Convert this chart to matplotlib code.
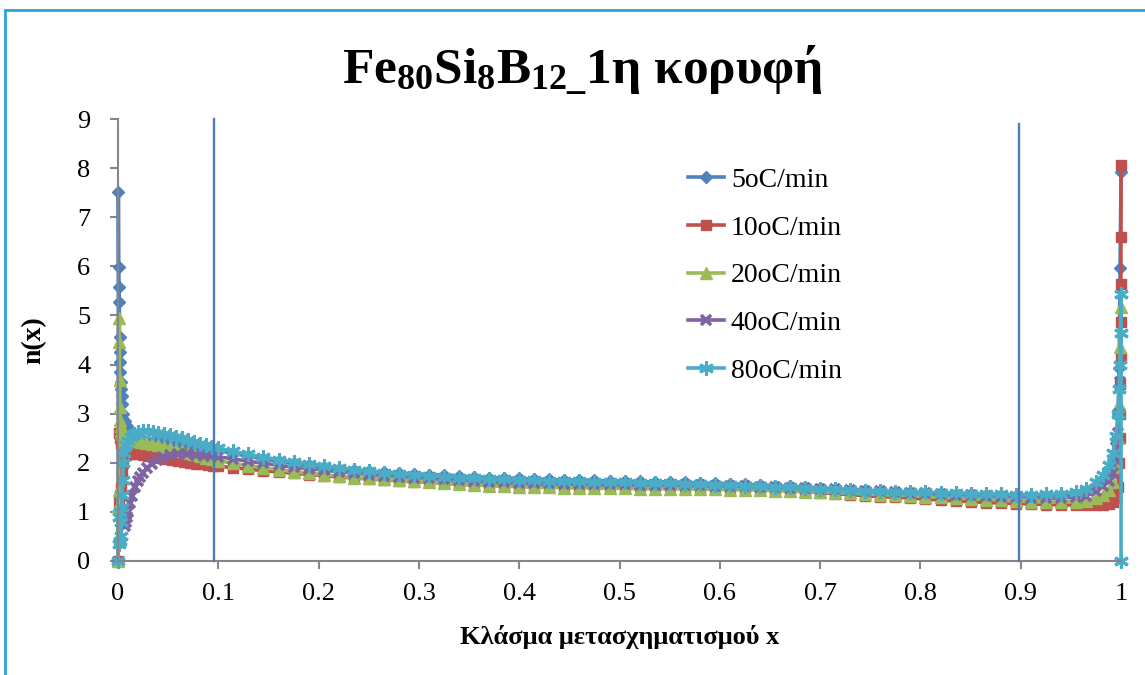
import matplotlib
matplotlib.use("Agg")
import matplotlib.pyplot as plt
from matplotlib.lines import Line2D

plt.rcParams["font.family"] = ["Liberation Serif", "DejaVu Serif"]
plt.rcParams["mathtext.fontset"] = "custom"
plt.rcParams["mathtext.rm"] = "Liberation Serif"
plt.rcParams["mathtext.bf"] = "Liberation Serif:bold"

# ---- data -------------------------------------------------------------
LABELS = ["5oC/min", "10oC/min", "20oC/min", "40oC/min", "80oC/min"]

# shared conversion-fraction grid for the middle part of every curve
X_MID = [0.100, 0.115, 0.130, 0.145, 0.160, 0.175, 0.190, 0.205, 0.220, 0.235,
         0.250, 0.265, 0.280, 0.295, 0.310, 0.325, 0.340, 0.355, 0.370, 0.385,
         0.400, 0.415, 0.430, 0.445, 0.460, 0.475, 0.490, 0.505, 0.520, 0.535,
         0.550, 0.565, 0.580, 0.595, 0.610, 0.625, 0.640, 0.655, 0.670, 0.685,
         0.700, 0.715, 0.730, 0.745, 0.760, 0.775, 0.790, 0.805, 0.820, 0.835,
         0.850, 0.865, 0.880, 0.895, 0.910, 0.925, 0.940, 0.955]

# 5 oC/min
X5_LEFT = [0.0, 0.0003, 0.0006, 0.0009, 0.0012, 0.0015, 0.0018, 0.0021, 0.0024,
           0.0027, 0.003, 0.0035, 0.004, 0.005, 0.007, 0.009, 0.012, 0.016, 0.020,
           0.025, 0.030, 0.036, 0.042, 0.048, 0.054, 0.060, 0.066, 0.072, 0.078,
           0.084, 0.090]
Y5_LEFT = [0.0, 7.52, 5.99, 5.58, 5.27, 4.56, 4.26, 4.05, 3.85,
           3.65, 3.50, 3.35, 3.20, 3.00, 2.85, 2.75, 2.55, 2.50, 2.48,
           2.46, 2.45, 2.44, 2.42, 2.40, 2.38, 2.36, 2.34, 2.32, 2.30,
           2.29, 2.27]
Y5_MID = [2.25, 2.19, 2.13, 2.08, 2.03, 1.99, 1.95, 1.92, 1.88, 1.85,
          1.83, 1.81, 1.79, 1.78, 1.76, 1.75, 1.73, 1.71, 1.70, 1.69,
          1.68, 1.67, 1.66, 1.65, 1.65, 1.64, 1.63, 1.63, 1.62, 1.61,
          1.61, 1.60, 1.59, 1.58, 1.57, 1.56, 1.55, 1.53, 1.52, 1.50,
          1.48, 1.47, 1.45, 1.44, 1.42, 1.41, 1.40, 1.39, 1.38, 1.37,
          1.36, 1.35, 1.34, 1.33, 1.33, 1.33, 1.34, 1.37]
X5_RIGHT = [0.965, 0.975, 0.982, 0.988, 0.992, 0.995, 0.997, 0.998, 0.999, 1.0]
Y5_RIGHT = [1.42, 1.52, 1.65, 1.82, 2.05, 2.40, 3.00, 3.93, 5.97, 7.93]

# 10 oC/min
X10_LEFT = [0.0, 0.0005, 0.001, 0.0015, 0.002, 0.0025, 0.003, 0.0035, 0.004,
            0.005, 0.006, 0.008, 0.010, 0.013, 0.016, 0.020, 0.025, 0.030,
            0.036, 0.042, 0.048, 0.054, 0.060, 0.066, 0.072, 0.078, 0.084,
            0.090, 0.095]
Y10_LEFT = [0.0, 1.20, 2.60, 1.35, 2.50, 1.50, 2.40, 1.80, 2.30,
            2.00, 2.25, 2.15, 2.22, 2.18, 2.20, 2.17, 2.16, 2.14,
            2.12, 2.10, 2.08, 2.06, 2.04, 2.02, 2.00, 1.98, 1.97,
            1.95, 1.94]
Y10_MID = [1.93, 1.90, 1.87, 1.84, 1.81, 1.79, 1.76, 1.74, 1.71, 1.69,
           1.67, 1.65, 1.63, 1.61, 1.60, 1.58, 1.56, 1.55, 1.54, 1.53,
           1.52, 1.52, 1.51, 1.51, 1.51, 1.52, 1.52, 1.52, 1.52, 1.52,
           1.52, 1.51, 1.51, 1.50, 1.49, 1.48, 1.47, 1.45, 1.43, 1.41,
           1.39, 1.37, 1.35, 1.33, 1.31, 1.30, 1.28, 1.26, 1.24, 1.22,
           1.21, 1.19, 1.18, 1.17, 1.16, 1.15, 1.14, 1.14]
X10_RIGHT = [0.965, 0.975, 0.982, 0.988, 0.992, 0.995, 0.997, 0.998, 0.9985,
             0.999, 0.9993, 0.9995, 0.9997, 0.9998, 0.9999, 1.0]
Y10_RIGHT = [1.14, 1.14, 1.15, 1.17, 1.20, 1.28, 1.50, 2.00, 2.50,
             3.00, 3.60, 4.16, 4.87, 5.64, 6.60, 8.07]

# 20 oC/min
X20_LEFT = [0.0, 0.0003, 0.0006, 0.0009, 0.0012, 0.0015, 0.0018, 0.0021, 0.0025,
            0.003, 0.004, 0.005, 0.007, 0.010, 0.014, 0.018, 0.023, 0.028,
            0.034, 0.040, 0.046, 0.052, 0.058, 0.064, 0.070, 0.076, 0.082,
            0.088, 0.094]
Y20_LEFT = [0.0, 1.12, 1.45, 4.95, 4.46, 3.69, 3.14, 2.87, 2.75,
            2.65, 2.58, 2.52, 2.48, 2.46, 2.45, 2.44, 2.43, 2.41,
            2.39, 2.36, 2.33, 2.30, 2.27, 2.24, 2.20, 2.17, 2.13,
            2.10, 2.07]
Y20_MID = [2.04, 1.99, 1.94, 1.90, 1.86, 1.82, 1.79, 1.76, 1.73, 1.70,
           1.68, 1.66, 1.64, 1.62, 1.60, 1.58, 1.56, 1.55, 1.53, 1.52,
           1.51, 1.50, 1.50, 1.49, 1.49, 1.48, 1.48, 1.48, 1.47, 1.47,
           1.47, 1.47, 1.46, 1.46, 1.45, 1.45, 1.44, 1.43, 1.42, 1.41,
           1.40, 1.39, 1.38, 1.37, 1.35, 1.34, 1.33, 1.31, 1.30, 1.28,
           1.27, 1.25, 1.24, 1.22, 1.21, 1.20, 1.20, 1.21]
X20_RIGHT = [0.965, 0.975, 0.982, 0.988, 0.992, 0.995, 0.997, 0.998, 0.999, 1.0]
Y20_RIGHT = [1.23, 1.28, 1.35, 1.45, 1.60, 1.92, 2.50, 3.20, 4.36, 5.17]

# 40 oC/min
X40_LEFT = [0.007, 0.008, 0.009, 0.010, 0.012, 0.014, 0.017, 0.020, 0.022,
            0.025, 0.029, 0.034, 0.039, 0.045, 0.052, 0.060, 0.069, 0.078,
            0.086, 0.093]
Y40_LEFT = [0.72, 0.80, 0.90, 1.00, 1.18, 1.33, 1.51, 1.63, 1.71,
            1.80, 1.89, 1.98, 2.06, 2.11, 2.16, 2.18, 2.18, 2.16,
            2.14, 2.13]
Y40_MID = [2.12, 2.08, 2.03, 1.99, 1.95, 1.91, 1.88, 1.85, 1.82, 1.79,
           1.76, 1.74, 1.72, 1.70, 1.68, 1.66, 1.64, 1.63, 1.61, 1.60,
           1.59, 1.58, 1.58, 1.57, 1.57, 1.56, 1.56, 1.56, 1.55, 1.55,
           1.55, 1.54, 1.54, 1.53, 1.53, 1.52, 1.51, 1.50, 1.49, 1.48,
           1.47, 1.46, 1.45, 1.43, 1.42, 1.40, 1.39, 1.38, 1.36, 1.35,
           1.34, 1.33, 1.31, 1.30, 1.29, 1.28, 1.28, 1.30]
X40_RIGHT = [0.965, 0.975, 0.982, 0.988, 0.992, 0.995, 0.997, 0.998, 0.999]
Y40_RIGHT = [1.33, 1.42, 1.52, 1.63, 1.80, 2.06, 2.60, 3.00, 3.65]

# 80 oC/min
X80_LEFT = [0.0, 0.0005, 0.001, 0.0015, 0.002, 0.0025, 0.003, 0.0035, 0.004,
            0.0045, 0.005, 0.006, 0.008, 0.010, 0.013, 0.016, 0.020, 0.025,
            0.030, 0.035, 0.040, 0.046, 0.052, 0.058, 0.064, 0.070, 0.076,
            0.082, 0.088, 0.094]
Y80_LEFT = [0.0, 0.35, 0.90, 0.40, 1.00, 0.50, 0.80, 1.10, 1.35,
            1.65, 2.00, 2.20, 2.36, 2.45, 2.53, 2.58, 2.62, 2.64,
            2.64, 2.63, 2.61, 2.58, 2.56, 2.53, 2.50, 2.46, 2.43,
            2.39, 2.36, 2.33]
Y80_MID = [2.30, 2.23, 2.17, 2.12, 2.06, 2.02, 1.98, 1.94, 1.90, 1.86,
           1.83, 1.80, 1.78, 1.76, 1.74, 1.72, 1.70, 1.68, 1.67, 1.66,
           1.65, 1.64, 1.63, 1.62, 1.62, 1.61, 1.60, 1.60, 1.59, 1.58,
           1.58, 1.57, 1.56, 1.55, 1.54, 1.53, 1.52, 1.51, 1.50, 1.48,
           1.47, 1.46, 1.45, 1.43, 1.42, 1.41, 1.40, 1.40, 1.39, 1.38,
           1.37, 1.36, 1.36, 1.35, 1.35, 1.36, 1.37, 1.41]
X80_RIGHT = [0.965, 0.975, 0.982, 0.988, 0.992, 0.995, 0.997, 0.998, 0.999,
             0.9995, 1.0, 1.0]
Y80_RIGHT = [1.47, 1.60, 1.75, 1.95, 2.20, 2.55, 3.00, 3.50, 4.00,
             4.64, 5.44, 0.0]

# vertical guide lines
VLINE_X = [0.096, 0.898]
VLINE_TOP = [9.0, 8.9]

X_TICKS = [0, 0.1, 0.2, 0.3, 0.4, 0.5, 0.6, 0.7, 0.8, 0.9, 1]
X_TICKLABELS = ["0", "0.1", "0.2", "0.3", "0.4", "0.5", "0.6", "0.7", "0.8", "0.9", "1"]
Y_TICKS = [0, 1, 2, 3, 4, 5, 6, 7, 8, 9]

# ---- figure -----------------------------------------------------------
fig = plt.figure(figsize=(11.45, 6.75), dpi=100)
ax = fig.add_axes([0.1031, 0.1689, 0.8760, 0.6548])

series = [
    (X5_LEFT + X_MID + X5_RIGHT, Y5_LEFT + Y5_MID + Y5_RIGHT,
     "#4F81BD", dict(marker="D", ms=6.5)),
    (X10_LEFT + X_MID + X10_RIGHT, Y10_LEFT + Y10_MID + Y10_RIGHT,
     "#C0504D", dict(marker="s", ms=7.5)),
    (X20_LEFT + X_MID + X20_RIGHT, Y20_LEFT + Y20_MID + Y20_RIGHT,
     "#9BBB59", dict(marker="^", ms=8.5)),
    (X40_LEFT + X_MID + X40_RIGHT, Y40_LEFT + Y40_MID + Y40_RIGHT,
     "#8064A2", dict(marker="x", ms=7.5, mew=2.6)),
    (X80_LEFT + X_MID + X80_RIGHT, Y80_LEFT + Y80_MID + Y80_RIGHT,
     "#4BACC6", dict(marker=(6, 2, 0), ms=10.5, mew=2.2)),
]

for (xs, ys, col, mk), lab in zip(series, LABELS):
    ax.plot(xs, ys, color=col, lw=2.6, mfc=col, mec=col, label=lab,
            clip_on=False, **mk)

for vx, vt in zip(VLINE_X, VLINE_TOP):
    ax.plot([vx, vx], [0, vt], color="#4A7EBB", lw=1.7, zorder=5, clip_on=False)

ax.set_xlim(0, 1)
ax.set_ylim(0, 9)
ax.set_xticks(X_TICKS)
ax.set_xticklabels(X_TICKLABELS)
ax.set_yticks(Y_TICKS)

for side in ("top", "right"):
    ax.spines[side].set_visible(False)
for side in ("left", "bottom"):
    ax.spines[side].set_color("#868686")
    ax.spines[side].set_linewidth(1.5)
ax.tick_params(axis="both", direction="out", length=6, width=1.5,
               color="#868686", labelsize=19, labelcolor="black")
ax.tick_params(axis="x", pad=10)
ax.tick_params(axis="y", pad=14)

ax.set_xlabel("Κλάσμα μετασχηματισμού x", fontsize=19, fontweight="bold", labelpad=14)
ax.set_ylabel("n(x)", fontsize=20, fontweight="bold", labelpad=22)

fig.text(0.5085, 0.897, r"$\mathbf{Fe_{80}Si_{8}B_{12\_}}$1η κορυφή",
         ha="center", va="center", fontsize=37, fontweight="bold")

leg = ax.legend(loc="upper left", bbox_to_anchor=(0.557, 0.915), frameon=False,
                fontsize=20, handlelength=1.3, handletextpad=0.25,
                labelspacing=0.8, numpoints=1, borderaxespad=0)

# light blue frame around the chart area
fig.add_artist(Line2D([0.004, 0.004], [0.0, 0.985], color="#2FA4DC", lw=2,
                      transform=fig.transFigure))
fig.add_artist(Line2D([0.004, 1.0], [0.985, 0.985], color="#2FA4DC", lw=2,
                      transform=fig.transFigure))

fig.savefig("out.png", dpi=100)
